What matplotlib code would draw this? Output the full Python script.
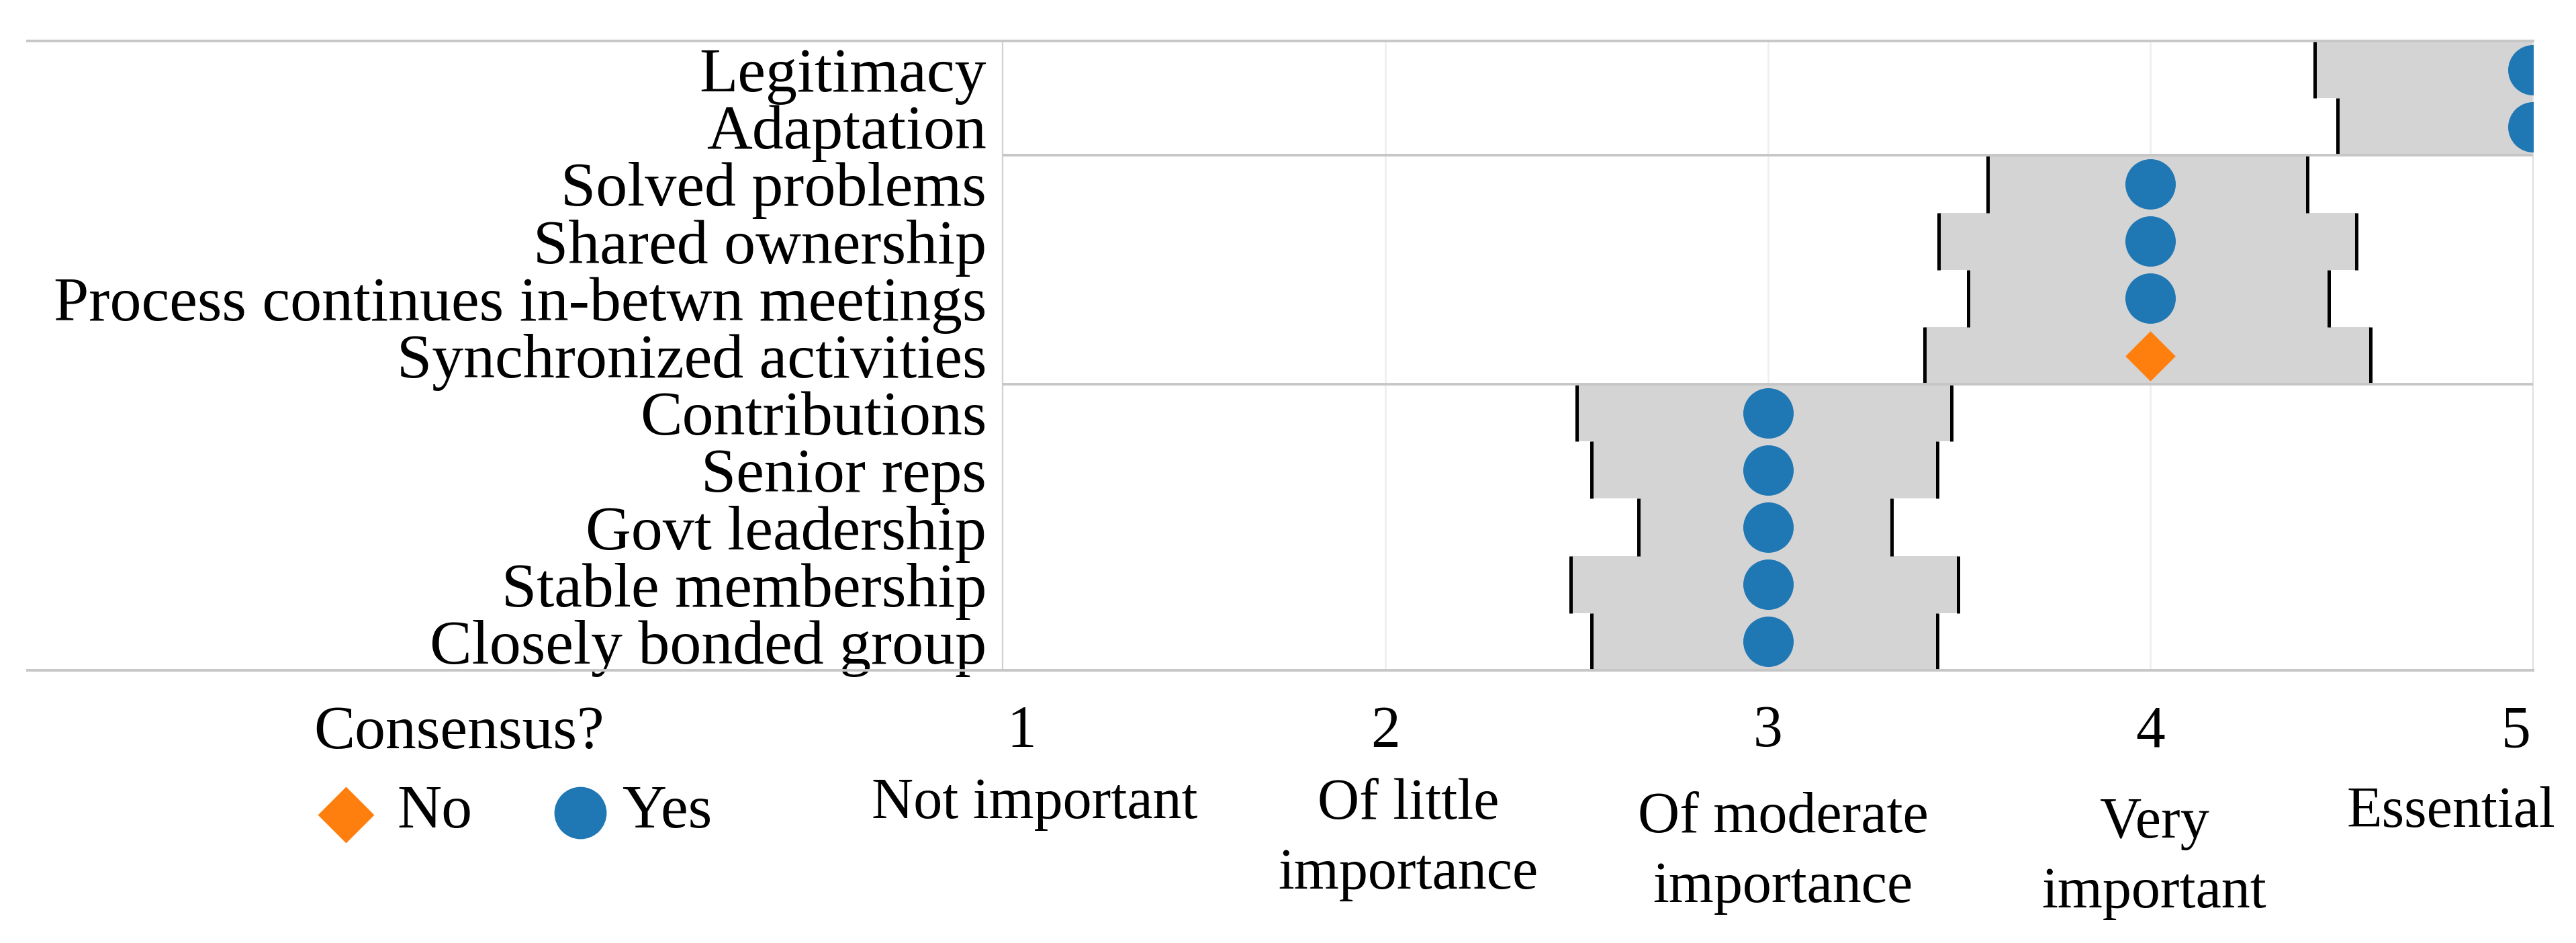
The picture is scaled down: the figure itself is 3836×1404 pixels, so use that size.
import matplotlib.pyplot as plt
from matplotlib.lines import Line2D
from matplotlib.transforms import blended_transform_factory

plt.rcParams["font.family"] = ["Liberation Serif", "DejaVu Serif"]

# rows from top to bottom
factors = ["Legitimacy", "Adaptation", "Solved problems", "Shared ownership",
           "Process continues in-betwn meetings", "Synchronized activities",
           "Contributions", "Senior reps", "Govt leadership", "Stable membership",
           "Closely bonded group"]
median = [5, 5, 4, 4, 4, 4, 3, 3, 3, 3, 3]
low = [4.43, 4.49, 3.575, 3.446, 3.524, 3.409, 2.50, 2.54, 2.663, 2.485, 2.54]
high = [5.57, 5.51, 4.41, 4.538, 4.466, 4.575, 3.48, 3.444, 3.323, 3.497, 3.444]
consensus = ["Yes", "Yes", "Yes", "Yes", "Yes", "No",
             "Yes", "Yes", "Yes", "Yes", "Yes"]
group_breaks = [1.5, 5.5]

scale_nums = [1, 2, 3, 4, 5]
scale_text = ["Not important", "Of little\nimportance", "Of moderate\nimportance",
              "Very\nimportant", "Essential"]

BLUE = "#1f77b4"
ORANGE = "#ff7f0e"
BOX = "#d4d4d4"
SEP = "#c6c6c6"

W, H = 3836, 1404
fig = plt.figure(figsize=(W / 200, H / 200), dpi=200)
ax = fig.add_axes([1493 / W, 1 - 998 / H, (3772 - 1493) / W, (998 - 61) / H])

rows = list(range(len(factors)))
ax.barh(rows, [h - l for l, h in zip(low, high)], left=low, height=1.0,
        color=BOX, zorder=1)
ax.vlines(low, [r - 0.5 for r in rows], [r + 0.5 for r in rows],
          color="black", lw=1.8, zorder=2)
ax.vlines(high, [r - 0.5 for r in rows], [r + 0.5 for r in rows],
          color="black", lw=1.8, zorder=2)

yes = [i for i in rows if consensus[i] == "Yes"]
no = [i for i in rows if consensus[i] == "No"]
ax.scatter([median[i] for i in yes], yes, s=27 ** 2, marker="o",
           color=BLUE, linewidths=0, zorder=3)
ax.scatter([median[i] for i in no], no, s=19 ** 2, marker="D",
           color=ORANGE, linewidths=0, zorder=3)

ax.set_xlim(1, 5)
ax.set_ylim(len(factors) - 0.5, -0.5)
ax.set_yticks(rows)
ax.set_yticklabels(factors, fontsize=33.8)
ax.tick_params(axis="y", length=0, pad=8.6)
ax.set_xticks([])

for x in scale_nums[1:-1]:
    ax.axvline(x, color="#efefef", lw=1.0, zorder=0)
for b in group_breaks:
    ax.axhline(b, color=SEP, lw=1.4, zorder=4)

ytr = ax.get_yaxis_transform()
for yb in [-0.5, len(factors) - 0.5]:
    ax.plot([-0.637, 1], [yb, yb], transform=ytr, color=SEP, lw=1.4,
            clip_on=False, zorder=4)

for side in ["top", "bottom"]:
    ax.spines[side].set_visible(False)
ax.spines["left"].set_color("#d0d0d0")
ax.spines["left"].set_linewidth(0.8)
ax.spines["right"].set_color("#e0e0e0")
ax.spines["right"].set_linewidth(0.8)

# scale labels under the axis
tr = blended_transform_factory(ax.transData, fig.transFigure)
num_nudge = [0.05, 0, 0, 0, -0.045]
text_nudge = [0.084, 0.06, 0.04, 0.01, -0.215]
text_y = [1197, 1250, 1270, 1278, 1210]
for n, t, dn, dt, ty in zip(scale_nums, scale_text, num_nudge, text_nudge, text_y):
    fig.text(n + dn, 1 - 1090 / H, str(n), transform=tr, ha="center",
             va="center", fontsize=31.5)
    fig.text(n + dt, 1 - ty / H, t, transform=tr, ha="center", va="center",
             fontsize=31, linespacing=1.4)

# legend
fig.text(467 / W, 1 - 1092 / H, "Consensus?", ha="left", va="center", fontsize=33)
fig.add_artist(Line2D([515 / W], [1 - 1213 / H], marker="D", markersize=20.5,
                      color=ORANGE, lw=0, transform=fig.transFigure))
fig.add_artist(Line2D([864 / W], [1 - 1210 / H], marker="o", markersize=27,
                      color=BLUE, lw=0, transform=fig.transFigure))
fig.text(591 / W, 1 - 1210 / H, "No", ha="left", va="center", fontsize=33)
fig.text(927 / W, 1 - 1210 / H, "Yes", ha="left", va="center", fontsize=33)

fig.savefig("out.png", dpi=200, facecolor="white")
